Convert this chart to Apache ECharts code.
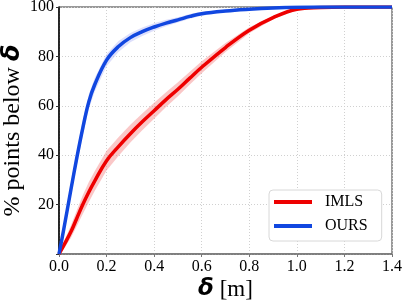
<!DOCTYPE html>
<html>
<head>
<meta charset="utf-8">
<script src="https://cdn.jsdelivr.net/npm/echarts@6/dist/echarts.min.js"></script>
<style>html,body{margin:0;padding:0;background:#fff;}#c{width:407px;height:302px;}</style>
</head>
<body>
<div id="c"></div>
<script>
var xs = [0,0.02,0.05,0.075,0.1,0.125,0.15,0.2,0.25,0.3,0.35,0.4,0.45,0.5,0.55,0.6,0.7,0.8,0.9,1.0,1.1,1.2,1.3,1.4];
var imls = [0,3.5,9,14.5,20,25,29.5,37.8,43.5,48.7,53.5,58,62.5,66.7,71.2,75.6,83.6,90.6,95.7,99.1,99.8,100,100,100];
var imlsSpread = [0,1.5,2.5,3.2,3.8,4,4,4,3.8,3.6,3.4,3.2,3,2.8,2.6,2.4,1.8,1.2,0.7,0.3,0.1,0,0,0];
var ours = [0,10,26,39,51,61.5,68.5,78.5,84,87.6,90,91.9,93.5,94.8,96.2,97.3,98.4,99.1,99.6,99.9,100,100,100,100];
var oursSpread = [0,1.5,2.5,3,3,3,2.8,2.5,2.2,1.9,1.7,1.5,1.3,1.1,1,0.8,0.5,0.3,0.2,0.1,0,0,0,0];
var xTicks = ['0.0','0.2','0.4','0.6','0.8','1.0','1.2','1.4'];
var yTicks = ['', '20', '40', '60', '80', '100'];

function pairs(v){ return xs.map(function(x,i){ return [x, v[i]]; }); }
function band(vals, spread, color){
  var up = vals.map(function(v,i){ return Math.min(100, v + spread[i]); });
  var lo = vals.map(function(v,i){ return Math.max(0, v - spread[i]); });
  return {
    type:'custom', silent:true, z:1,
    data: pairs(up),
    renderItem: function(params, api){
      if (params.dataIndex !== 0) return null;
      var pts = [];
      for (var i=0;i<xs.length;i++) pts.push(api.coord([xs[i], up[i]]));
      for (var j=xs.length-1;j>=0;j--) pts.push(api.coord([xs[j], lo[j]]));
      return {type:'polygon', shape:{points:pts}, style:{fill:color}};
    }
  };
}

var serif = 'Liberation Serif';
var chart = echarts.init(document.getElementById('c'));
chart.setOption({
  animation:false,
  grid:{left:59, right:15, top:7, bottom:48, show:true, borderColor:'#333', borderWidth:1, containLabel:false, outerBoundsMode:'none'},
  xAxis:{
    type:'value', min:0, max:1.4, interval:0.2,
    name:'{d|δ} [m]', nameLocation:'middle', nameGap:24, nameMoveOverlap:false,
    nameTextStyle:{fontFamily:serif, fontSize:23, color:'#000', rich:{d:{fontFamily:'DejaVu Sans', fontStyle:'italic', fontWeight:'bold', fontSize:23, color:'#000'}}},
    axisLine:{show:true, onZero:false, lineStyle:{color:'#777', width:1.5}},
    axisTick:{show:true, length:3, lineStyle:{color:'#777'}},
    axisLabel:{fontFamily:serif, fontSize:16, color:'#000', margin:5, formatter:function(v){ return xTicks[Math.round(v/0.2)]; }},
    splitLine:{show:true, lineStyle:{color:'#d0d0d0', type:[1,2], width:1}}
  },
  yAxis:{
    type:'value', min:0, max:100, interval:20,
    name:'% points below {d|δ}', nameLocation:'middle', nameGap:34, nameRotate:90, nameMoveOverlap:false,
    nameTextStyle:{fontFamily:serif, fontSize:24, color:'#000', rich:{d:{fontFamily:'DejaVu Sans', fontStyle:'italic', fontWeight:'bold', fontSize:24, color:'#000'}}},
    axisLine:{show:true, lineStyle:{color:'#000', width:1.5}},
    axisTick:{show:true, length:3, lineStyle:{color:'#333'}},
    axisLabel:{fontFamily:serif, fontSize:16, color:'#000', margin:5, formatter:function(v){ return yTicks[Math.round(v/20)]; }},
    splitLine:{show:true, lineStyle:{color:'#d0d0d0', type:[1,2], width:1}}
  },
  legend:{
    orient:'vertical', left:269, top:190,
    data:['IMLS','OURS'],
    icon:'rect', itemWidth:38, itemHeight:4, itemGap:8,
    padding:[4,14,7,5],
    backgroundColor:'#fff', borderColor:'#d8d8d8', borderWidth:1, borderRadius:4,
    textStyle:{fontFamily:serif, fontSize:16, color:'#000', padding:[0,0,0,8]}
  },
  series:[
    band(imls, imlsSpread, 'rgba(245,130,130,0.45)'),
    band(ours, oursSpread, 'rgba(170,175,245,0.4)'),
    {name:'IMLS', type:'line', data:pairs(imls), showSymbol:false, smooth:0.4, z:3,
     lineStyle:{color:'#ee0000', width:3.5}, itemStyle:{color:'#ee0000'}},
    {name:'OURS', type:'line', data:pairs(ours), showSymbol:false, smooth:0.4, z:3,
     lineStyle:{color:'#1147e0', width:3.5}, itemStyle:{color:'#1147e0'}}
  ]
});
</script>
</body>
</html>
